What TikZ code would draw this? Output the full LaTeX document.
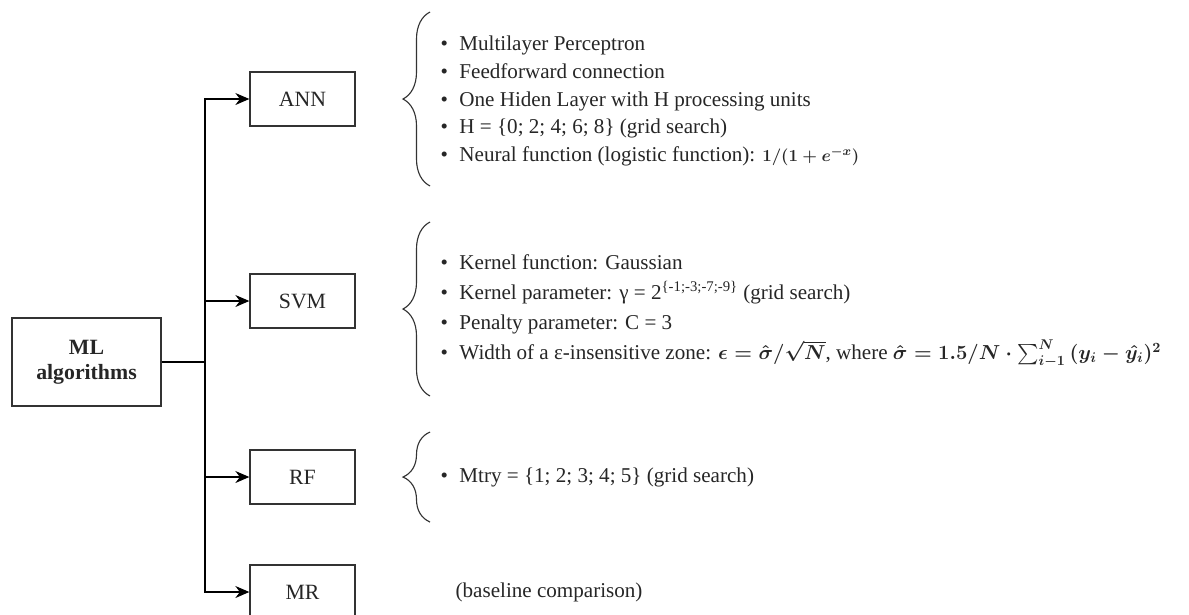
\documentclass[tikz,border=0pt]{standalone}
\usepackage{amsmath}
\usepackage{fontspec}
\setmainfont{Liberation Serif}
\usetikzlibrary{positioning, arrows.meta, decorations.pathreplacing}

% one bullet line, and the math in it
\newcommand{\itm}[1]{\makebox[0.47cm][l]{\textbullet}#1}
\newcommand{\mth}[2][13]{{\fontsize{#1}{16}\selectfont\boldmath$#2$}}

\begin{document}
\begin{tikzpicture}[
			x=0.025cm, y=-0.025cm,
			algo/.style={draw=black!80, line width=0.9pt, minimum width=2.625cm, minimum height=1.35cm, text=black!85, font=\fontsize{15.5}{18}\selectfont},
			root/.style={algo, minimum width=3.725cm, minimum height=2.2cm, align=center, font=\fontsize{15.5}{18}\selectfont\bfseries},
			brc/.style={draw=black!80, line width=0.8pt, decorate, decoration={brace, amplitude=0.675cm}},
			items/.style={anchor=west, inner sep=0pt, align=left, text=black!85, font=\fontsize{15}{19.6}\selectfont},
			->, >={Stealth[length=3.5mm, width=3mm]}, line width=0.9pt,
			]
			\useasboundingbox (0,0) rectangle (1189,614);
			\clip (0,0) rectangle (1189,614);
			
			% Kästen
			\node[root] (ML) at (86.5,362) {ML\\algorithms};
			\node[algo] (ANN) at (302.5,99) {ANN};
			\node[algo] (SVM) at (302.5,301) {SVM};
			\node[algo] (RF) at (302.5,477) {RF};
			\node[algo] (MR) at (302.5,592) {MR};
			\coordinate (Stamm) at (205,362);
			
			% Verbindungen
			\draw[-] (ML.east) -- (Stamm);
			\draw (Stamm) |- (ANN.west);
			\draw (Stamm) |- (SVM.west);
			\draw (Stamm) |- (RF.west);
			\draw (Stamm) |- (MR.west);
			
			% Klammern
			\draw[brc, -] (430,186) -- (430,12);
			\draw[brc, -] (430,396) -- (430,222);
			\draw[brc, -] (430,522) -- (430,432);
			
			\node[items] (ANNtext) at (440,101) {%
				\itm{Multilayer Perceptron}\\
				\itm{Feedforward connection}\\
				\itm{One Hiden Layer with H processing units}\\
				\itm{H = \{0; 2; 4; 6; 8\} (grid search)}\\
				\itm{Neural function (logistic function): \mth{1/(1+e^{-x})}}};
			\node[items, font=\fontsize{15}{21.5}\selectfont] (SVMtext) at (440,311) {%
				\itm{Kernel function: Gaussian}\\
				\itm{Kernel parameter: γ = 2\textsuperscript{\{-1;-3;-7;-9\}} (grid search)}\\
				\itm{Penalty parameter: C = 3}\\
				\itm{Width of a ε-insensitive zone: \mth[14.5]{\epsilon = \hat{\sigma}/\sqrt{N}}, where \mth[14.5]{\hat{\sigma} = 1.5/N \cdot \sum_{i-1}^{N}\,(y_i - \hat{y_i})^2}}};
			\node[items] (RFtext) at (440,477) {\itm{Mtry = \{1; 2; 3; 4; 5\} (grid search)}};
			\node[items] (MRtext) at (455,592) {(baseline comparison)};
			
		\end{tikzpicture}
\end{document}
